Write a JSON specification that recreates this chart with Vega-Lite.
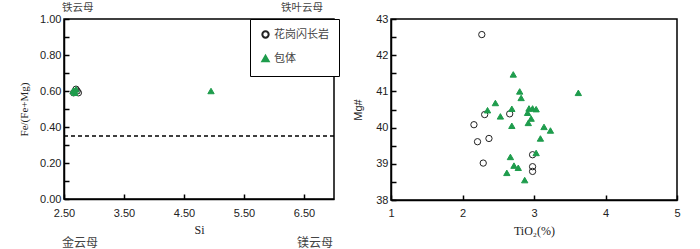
{
  "$schema": "https://vega.github.io/schema/vega-lite/v6.json",
  "background": "white",
  "padding": {"left": 17, "top": 2, "right": 5, "bottom": 0},
  "bounds": "flush",
  "spacing": 57,
  "config": {
    "view": {"stroke": "black", "strokeWidth": 1.5},
    "axis": {
      "domainColor": "black", "domainWidth": 1.5, "tickColor": "black", "tickWidth": 1.5,
      "tickSize": -5, "grid": false, "labelFont": "Liberation Sans", "labelFontSize": 11,
      "labelColor": "#222", "labelPadding": 8, "titleFont": "Liberation Serif",
      "titleFontWeight": "normal", "titleFontSize": 12, "titleColor": "#222",
      "labelOverlap": false, "labelFlush": false
    },
    "axisX": {"labelPadding": 13, "titlePadding": 6},
    "axisY": {"titlePadding": 10}
  },
  "datasets": {
    "left": [
      {"Si": 2.66, "ratio": 0.59, "type": "花岗闪长岩"},
      {"Si": 2.72, "ratio": 0.60, "type": "花岗闪长岩"},
      {"Si": 2.74, "ratio": 0.59, "type": "花岗闪长岩"},
      {"Si": 2.70, "ratio": 0.61, "type": "花岗闪长岩"},
      {"Si": 2.65, "ratio": 0.60, "type": "包体"},
      {"Si": 2.68, "ratio": 0.59, "type": "包体"},
      {"Si": 2.70, "ratio": 0.61, "type": "包体"},
      {"Si": 2.67, "ratio": 0.60, "type": "包体"},
      {"Si": 4.95, "ratio": 0.60, "type": "包体"}
    ],
    "right": [
      {"TiO2": 2.27, "Mg": 42.57, "type": "花岗闪长岩"},
      {"TiO2": 2.31, "Mg": 40.36, "type": "花岗闪长岩"},
      {"TiO2": 2.66, "Mg": 40.38, "type": "花岗闪长岩"},
      {"TiO2": 2.16, "Mg": 40.08, "type": "花岗闪长岩"},
      {"TiO2": 2.21, "Mg": 39.61, "type": "花岗闪长岩"},
      {"TiO2": 2.37, "Mg": 39.70, "type": "花岗闪长岩"},
      {"TiO2": 2.29, "Mg": 39.02, "type": "花岗闪长岩"},
      {"TiO2": 2.98, "Mg": 39.25, "type": "花岗闪长岩"},
      {"TiO2": 2.98, "Mg": 38.92, "type": "花岗闪长岩"},
      {"TiO2": 2.98, "Mg": 38.79, "type": "花岗闪长岩"},
      {"TiO2": 2.71, "Mg": 41.47, "type": "包体"},
      {"TiO2": 2.80, "Mg": 41.00, "type": "包体"},
      {"TiO2": 2.82, "Mg": 40.82, "type": "包体"},
      {"TiO2": 3.62, "Mg": 40.96, "type": "包体"},
      {"TiO2": 2.46, "Mg": 40.68, "type": "包体"},
      {"TiO2": 2.35, "Mg": 40.48, "type": "包体"},
      {"TiO2": 2.53, "Mg": 40.31, "type": "包体"},
      {"TiO2": 2.69, "Mg": 40.52, "type": "包体"},
      {"TiO2": 2.93, "Mg": 40.53, "type": "包体"},
      {"TiO2": 2.98, "Mg": 40.53, "type": "包体"},
      {"TiO2": 3.03, "Mg": 40.51, "type": "包体"},
      {"TiO2": 2.91, "Mg": 40.41, "type": "包体"},
      {"TiO2": 2.96, "Mg": 40.25, "type": "包体"},
      {"TiO2": 2.92, "Mg": 40.13, "type": "包体"},
      {"TiO2": 2.69, "Mg": 40.05, "type": "包体"},
      {"TiO2": 3.14, "Mg": 40.02, "type": "包体"},
      {"TiO2": 3.23, "Mg": 39.92, "type": "包体"},
      {"TiO2": 3.09, "Mg": 39.70, "type": "包体"},
      {"TiO2": 3.03, "Mg": 39.30, "type": "包体"},
      {"TiO2": 2.67, "Mg": 39.19, "type": "包体"},
      {"TiO2": 2.72, "Mg": 38.95, "type": "包体"},
      {"TiO2": 2.78, "Mg": 38.89, "type": "包体"},
      {"TiO2": 2.62, "Mg": 38.75, "type": "包体"},
      {"TiO2": 2.87, "Mg": 38.55, "type": "包体"}
    ]
  },
  "hconcat": [
    {
      "width": 270,
      "height": 180,
      "encoding": {
        "x": {"field": "Si", "type": "quantitative", "scale": {"domain": [2.5, 7], "nice": false, "zero": false},
          "axis": {"values": [2.5, 3.5, 4.5, 5.5, 6.5], "format": ".2f", "title": "Si"}},
        "y": {"field": "ratio", "type": "quantitative", "scale": {"domain": [0, 1], "nice": false, "zero": false},
          "axis": {"values": [0, 0.1, 0.2, 0.3, 0.4, 0.5, 0.6, 0.7, 0.8, 0.9, 1.0],
            "labelExpr": "round(datum.value*10)%2==0 ? format(datum.value,'.2f') : ''",
            "title": "Fe/(Fe+Mg)", "titleFontSize": 11}}
      },
      "layer": [
        {
          "data": {"values": [{"ratio": 0.35}]},
          "mark": {"type": "rule", "strokeDash": [4, 3], "strokeWidth": 1.5, "color": "black"},
          "encoding": {"x": null}
        },
        {
          "data": {"name": "left"},
          "mark": {"type": "point", "filled": true, "opacity": 1, "size": 40, "strokeWidth": 1},
          "encoding": {
            "shape": {"field": "type", "type": "nominal",
              "scale": {"domain": ["花岗闪长岩", "包体"], "range": ["circle", "triangle-up"]},
              "legend": {"orient": "none", "legendX": 186, "legendY": 0, "title": null,
                "strokeColor": "black", "fillColor": "white", "padding": 10, "rowPadding": 9,
                "labelFont": "Noto Sans CJK SC", "labelFontSize": 11, "labelColor": "#444",
                "symbolSize": 40, "symbolStrokeWidth": 2, "labelOffset": 3}},
            "fill": {"field": "type", "type": "nominal",
              "scale": {"domain": ["花岗闪长岩", "包体"], "range": ["transparent", "#1e9c4c"]}},
            "stroke": {"field": "type", "type": "nominal",
              "scale": {"domain": ["花岗闪长岩", "包体"], "range": ["#222222", "#1e9c4c"]}}
          }
        },
        {
          "data": {"values": [{"Si": 2.5, "ratio": 1, "label": "铁云母"}]},
          "mark": {"type": "text", "align": "left", "baseline": "middle", "dx": -2, "dy": -11, "font": "Noto Sans CJK SC", "fontSize": 10.5, "color": "#444"},
          "encoding": {"text": {"field": "label"}}
        },
        {
          "data": {"values": [{"Si": 2.5, "ratio": 0, "label": "金云母"}]},
          "mark": {"type": "text", "align": "left", "baseline": "middle", "dx": -2, "dy": 44, "font": "Noto Sans CJK SC", "fontSize": 12, "color": "#444"},
          "encoding": {"text": {"field": "label"}}
        },
        {
          "data": {"values": [{"Si": 7, "ratio": 1, "label": "铁叶云母"}]},
          "mark": {"type": "text", "align": "right", "baseline": "middle", "dx": -11, "dy": -11, "font": "Noto Sans CJK SC", "fontSize": 10.5, "color": "#444"},
          "encoding": {"text": {"field": "label"}}
        },
        {
          "data": {"values": [{"Si": 7, "ratio": 0, "label": "镁云母"}]},
          "mark": {"type": "text", "align": "right", "baseline": "middle", "dx": -1, "dy": 44, "font": "Noto Sans CJK SC", "fontSize": 12, "color": "#444"},
          "encoding": {"text": {"field": "label"}}
        }
      ]
    },
    {
      "width": 286,
      "height": 181,
      "data": {"name": "right"},
      "mark": {"type": "point", "filled": true, "opacity": 1, "size": 40, "strokeWidth": 1},
      "encoding": {
        "x": {"field": "TiO2", "type": "quantitative", "scale": {"domain": [1, 5], "nice": false, "zero": false},
          "axis": {"values": [1, 2, 3, 4, 5], "title": "TiO₂(%)", "labelPadding": 12, "titlePadding": 7}},
        "y": {"field": "Mg", "type": "quantitative", "scale": {"domain": [38, 43], "nice": false, "zero": false},
          "axis": {"values": [38, 38.5, 39, 39.5, 40, 40.5, 41, 41.5, 42, 42.5, 43],
            "labelExpr": "datum.value%1==0 ? format(datum.value,'d') : ''",
            "title": "Mg#", "titleFont": "Liberation Sans", "titleFontSize": 11, "titlePadding": 12}},
        "shape": {"field": "type", "type": "nominal",
          "scale": {"domain": ["花岗闪长岩", "包体"], "range": ["circle", "triangle-up"]}, "legend": null},
        "fill": {"field": "type", "type": "nominal",
          "scale": {"domain": ["花岗闪长岩", "包体"], "range": ["transparent", "#1e9c4c"]}, "legend": null},
        "stroke": {"field": "type", "type": "nominal",
          "scale": {"domain": ["花岗闪长岩", "包体"], "range": ["#222222", "#1e9c4c"]}, "legend": null}
      }
    }
  ]
}
